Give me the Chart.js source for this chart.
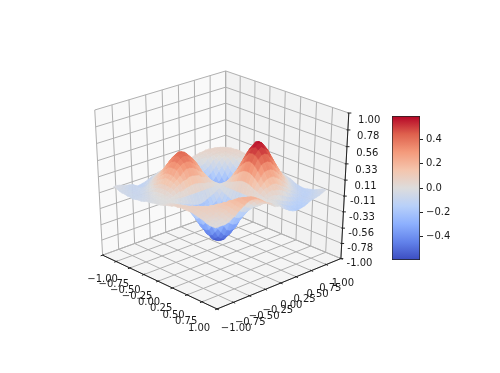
<!DOCTYPE html>
<html>
<head>
<meta charset="utf-8">
<script src="https://cdn.jsdelivr.net/npm/chart.js@4"></script>
<style>
    body { margin: 0; background: #fff; }
    canvas { position: absolute; }
</style>
</head>
<body>
<canvas id="surfaceChart" width="500" height="373" style="left:0;top:0"></canvas>
<canvas id="colorbarChart" width="80" height="148" style="left:390px;top:114px"></canvas>
<script>
const xTicks = [-1, -0.75, -0.5, -0.25, 0, 0.25, 0.5, 0.75, 1];
const yTicks = [-1, -0.75, -0.5, -0.25, 0, 0.25, 0.5, 0.75, 1];
const zTicks = [-1, -0.78, -0.56, -0.33, -0.11, 0.11, 0.33, 0.56, 0.78, 1];
const xTickLabels = ['−1.00', '−0.75', '−0.50', '−0.25', '0.00', '0.25', '0.50', '0.75', '1.00'];
const yTickLabels = ['−1.00', '−0.75', '−0.50', '−0.25', '0.00', '0.25', '0.50', '0.75', '1.00'];
const zTickLabels = ['-1.00', '-0.78', '-0.56', '-0.33', '-0.11', '0.11', '0.33', '0.56', '0.78', '1.00'];
const colorbarTicks = [-0.4, -0.2, 0, 0.2, 0.4];
const zMin = -0.59;
const zMax = 0.59;

const surfaceX = [-0.88, -0.832, -0.784, -0.736, -0.688, -0.64, -0.592, -0.544, -0.496, -0.448, -0.4, -0.352,
    -0.304, -0.256, -0.208, -0.16, -0.112, -0.064, -0.016, 0.032, 0.08, 0.128, 0.176, 0.224, 0.272, 0.32, 0.368,
    0.416, 0.464, 0.512, 0.56, 0.608, 0.656, 0.704, 0.752, 0.8, 0.848];
const surfaceY = [-0.88, -0.832, -0.784, -0.736, -0.688, -0.64, -0.592, -0.544, -0.496, -0.448, -0.4, -0.352,
    -0.304, -0.256, -0.208, -0.16, -0.112, -0.064, -0.016, 0.032, 0.08, 0.128, 0.176, 0.224, 0.272, 0.32, 0.368,
    0.416, 0.464, 0.512, 0.56, 0.608, 0.656, 0.704, 0.752, 0.8, 0.848];

// surface height in hundredths, one row per surfaceY value
const surfaceZ = [
    [-2,-3,-5,-6,-6,-7,-7,-8,-7,-6,-6,-5,-3,-3,-2,-1,-1,0,1,3,4,5,7,7,8,8,8,8,8,7,6,5,4,2,1,1,1],
    [-2,-3,-5,-6,-6,-7,-7,-8,-7,-6,-6,-5,-3,-3,-2,-1,-1,0,1,3,4,5,7,7,8,8,8,8,8,7,6,5,4,2,1,1,1],
    [-3,-5,-6,-7,-8,-8,-8,-8,-7,-6,-4,-3,-2,-1,-1,0,0,0,1,2,3,3,5,6,7,8,9,9,9,8,8,7,5,4,2,1,1],
    [-5,-6,-8,-8,-8,-8,-8,-7,-6,-4,-3,-1,0,0,1,1,0,0,0,-1,0,1,2,3,5,7,8,9,9,9,8,8,6,5,3,1,1],
    [-6,-8,-8,-9,-8,-8,-7,-5,-3,-1,0,2,2,3,2,2,1,0,-1,-3,-3,-2,0,1,3,4,7,8,9,9,9,8,8,5,4,2,2],
    [-7,-8,-9,-8,-8,-6,-5,-3,0,2,4,6,6,6,6,4,2,0,-3,-5,-6,-6,-5,-3,0,3,4,7,8,9,9,9,8,8,6,5,5],
    [-8,-8,-8,-8,-6,-4,-2,1,4,6,9,10,11,10,9,7,4,0,-5,-9,-11,-13,-12,-9,-5,-1,3,5,8,9,10,10,10,10,8,7,7],
    [-12,-12,-11,-9,-6,-3,2,5,9,12,14,17,17,16,14,10,6,0,-7,-12,-17,-20,-21,-18,-12,-7,-2,3,7,10,12,13,13,13,12,11,11],
    [-12,-11,-10,-7,-3,2,6,9,13,17,20,21,21,20,17,13,6,0,-9,-17,-23,-28,-29,-29,-25,-17,-10,-3,3,8,12,14,16,16,15,14,14],
    [-11,-10,-7,-4,1,5,9,14,18,23,27,28,28,27,21,16,8,0,-11,-21,-29,-36,-38,-38,-36,-29,-20,-11,-2,5,11,15,17,18,18,17,17],
    [-10,-8,-5,0,4,8,13,18,24,29,33,35,34,31,25,17,9,0,-13,-24,-34,-42,-46,-47,-45,-39,-33,-21,-10,-1,7,13,17,20,21,20,20],
    [-8,-6,-2,2,6,11,17,23,29,35,38,40,38,34,28,19,10,0,-14,-26,-37,-46,-51,-54,-51,-47,-39,-29,-18,-6,3,10,15,19,21,21,21],
    [-6,-4,0,4,8,13,20,27,33,38,41,42,40,35,28,19,10,0,-14,-26,-38,-47,-54,-57,-56,-51,-45,-36,-25,-13,-2,6,12,17,20,21,21],
    [-5,-2,2,6,9,16,21,28,35,40,42,42,39,34,27,18,9,0,-13,-25,-36,-46,-52,-58,-57,-54,-47,-38,-28,-17,-6,3,9,15,19,20,20],
    [-3,-1,2,6,10,16,21,28,34,38,40,39,35,30,24,17,8,0,-11,-22,-32,-41,-48,-52,-54,-51,-46,-38,-29,-19,-9,0,7,12,15,17,17],
    [-2,0,3,6,9,15,20,27,31,34,35,34,30,26,20,13,6,0,-9,-18,-27,-35,-41,-46,-47,-46,-42,-36,-27,-19,-11,-3,3,8,12,14,14],
    [-2,1,2,6,9,14,18,23,27,30,30,29,26,22,17,12,6,0,-7,-15,-21,-27,-32,-36,-38,-37,-34,-29,-23,-17,-11,-6,-1,3,7,10,10],
    [-1,1,2,4,7,10,14,17,19,21,21,20,18,14,12,8,4,0,-5,-10,-15,-18,-22,-25,-26,-26,-24,-21,-17,-12,-9,-5,-3,0,4,7,7],
    [0,0,1,2,4,6,7,9,10,11,11,10,9,7,6,4,2,0,-3,-5,-7,-9,-11,-13,-14,-14,-13,-11,-9,-7,-5,-3,-1,1,3,5,5],
    [0,0,0,0,0,0,0,0,0,0,0,0,0,0,0,0,0,0,0,0,0,0,0,0,0,0,0,0,0,0,0,0,0,0,0,0,0],
    [0,0,-1,-3,-5,-7,-9,-11,-13,-14,-14,-13,-11,-9,-7,-5,-3,0,3,5,7,9,11,13,14,14,13,11,9,7,5,3,1,0,0,-1,-1],
    [1,-1,-3,-5,-9,-12,-17,-21,-24,-26,-26,-25,-22,-18,-15,-10,-5,0,5,10,15,18,22,25,26,26,24,21,17,12,9,5,3,1,-1,-2,-2],
    [1,-1,-3,-7,-11,-17,-23,-29,-34,-37,-38,-36,-32,-27,-21,-15,-7,0,7,15,21,27,32,36,38,37,34,29,23,17,11,7,3,0,-4,-7,-7],
    [1,0,-4,-8,-13,-20,-28,-36,-42,-46,-47,-46,-41,-35,-27,-18,-9,0,9,18,27,35,41,46,47,46,42,36,28,20,13,8,3,-2,-6,-10,-10],
    [1,0,-3,-8,-14,-21,-29,-38,-46,-51,-54,-52,-48,-41,-32,-22,-11,0,11,22,32,41,48,52,54,51,46,38,29,21,14,7,2,-4,-9,-13,-13],
    [2,1,-2,-7,-13,-21,-29,-38,-47,-54,-57,-57,-52,-46,-36,-25,-13,0,13,25,36,46,52,58,57,54,47,38,29,21,13,6,0,-6,-11,-15,-15],
    [3,2,0,-5,-11,-18,-27,-36,-45,-51,-56,-57,-54,-47,-38,-26,-14,0,14,26,38,47,54,57,56,51,45,36,27,18,10,4,-2,-8,-13,-16,-16],
    [4,3,1,-3,-8,-15,-23,-31,-39,-47,-51,-54,-51,-46,-37,-26,-14,0,14,26,37,46,51,54,51,47,39,31,23,15,7,1,-5,-10,-14,-16,-16],
    [5,4,2,0,-5,-11,-18,-25,-33,-39,-45,-47,-46,-42,-34,-24,-13,0,13,24,34,42,46,47,45,39,33,25,18,11,4,-2,-7,-12,-15,-16,-15],
    [5,5,3,2,-1,-6,-12,-19,-25,-31,-36,-38,-38,-36,-29,-21,-11,0,11,21,29,36,38,38,36,31,25,19,12,6,0,-5,-9,-13,-15,-15,-14],
    [6,5,5,3,1,-2,-7,-12,-18,-23,-27,-29,-29,-28,-23,-17,-9,0,9,17,23,28,29,29,27,23,18,12,7,2,-4,-8,-12,-14,-14,-13,-12],
    [6,6,5,4,3,1,-2,-6,-11,-15,-18,-21,-21,-20,-17,-12,-7,0,7,12,17,20,21,21,18,15,11,6,2,-3,-6,-9,-11,-12,-12,-10,-10],
    [5,6,6,5,4,3,1,-1,-5,-8,-11,-13,-14,-13,-11,-9,-5,0,5,9,11,13,14,13,11,8,5,1,-3,-6,-9,-11,-12,-12,-11,-9,-9],
    [5,6,6,6,5,4,3,2,0,-3,-5,-7,-8,-8,-7,-5,-3,0,3,5,7,8,8,7,5,3,0,-4,-7,-9,-11,-12,-13,-12,-10,-8,-8],
    [4,5,6,6,6,5,5,3,2,1,0,-2,-3,-4,-3,-3,-1,0,1,3,3,4,3,2,0,-2,-5,-7,-10,-11,-12,-13,-12,-11,-9,-7,-7],
    [3,4,5,6,6,6,5,5,4,3,2,1,0,0,-1,-1,0,0,0,1,1,0,-1,-2,-4,-6,-8,-10,-11,-12,-12,-12,-11,-9,-7,-5,-5],
    [2,3,4,5,5,6,6,5,5,4,3,2,1,1,1,0,0,0,0,-1,-2,-2,-3,-5,-6,-8,-10,-11,-12,-12,-11,-10,-9,-7,-5,-3,-3]
];

// coolwarm colormap
const coolwarm = [[59, 76, 192], [98, 130, 234], [141, 176, 254], [184, 208, 249], [221, 220, 220],
    [244, 197, 173], [244, 154, 123], [222, 96, 77], [180, 4, 38]];

// camera
const azim = -43 * Math.PI / 180;
const elev = 30 * Math.PI / 180;
const dist = 20;
const zStretch = 1.28;
const centerX = 221.5;
const centerY = 186.5;
const focalX = 1740;
const focalY = 1310;

function viewDepth(x, y, z) {
    return Math.cos(elev) * Math.cos(azim) * x + Math.cos(elev) * Math.sin(azim) * y + Math.sin(elev) * z * zStretch;
}

function project(x, y, z) {
    const w = dist - viewDepth(x, y, z);
    const right = -Math.sin(azim) * x + Math.cos(azim) * y;
    const up = -Math.sin(elev) * Math.cos(azim) * x - Math.sin(elev) * Math.sin(azim) * y + Math.cos(elev) * z * zStretch;
    return { x: centerX + focalX * right / w, y: centerY - focalY * up / w };
}

function coolwarmColor(value) {
    const t = Math.min(1, Math.max(0, (value - zMin) / (zMax - zMin))) * (coolwarm.length - 1);
    const i = Math.min(coolwarm.length - 2, Math.floor(t));
    const c = coolwarm[i].map((v, k) => Math.round(v + (coolwarm[i + 1][k] - v) * (t - i)));
    return `rgb(${c[0]},${c[1]},${c[2]})`;
}

function polygon(corners, color) {
    const pts = corners.map(c => project(c[0], c[1], c[2]));
    pts.push(pts[0]);
    return { data: pts, showLine: true, fill: 'shape', backgroundColor: color, borderColor: color, borderWidth: 0.6, pointRadius: 0 };
}

function segment(a, b, color, width) {
    return { data: [project(a[0], a[1], a[2]), project(b[0], b[1], b[2])], showLine: true, fill: false, borderColor: color, borderWidth: width, pointRadius: 0 };
}

function buildDatasets() {
    const sets = [];

    // panes
    sets.push(polygon([[-1, -1, -1], [-1, 1, -1], [-1, 1, 1], [-1, -1, 1]], '#f9f9f9'));
    sets.push(polygon([[-1, 1, -1], [1, 1, -1], [1, 1, 1], [-1, 1, 1]], '#f2f2f2'));
    sets.push(polygon([[-1, -1, -1], [1, -1, -1], [1, 1, -1], [-1, 1, -1]], '#f5f5f5'));

    // grid
    const gridColor = '#b0b0b0';
    xTicks.forEach(x => {
        sets.push(segment([x, -1, -1], [x, 1, -1], gridColor, 1));
        sets.push(segment([x, 1, -1], [x, 1, 1], gridColor, 1));
    });
    yTicks.forEach(y => {
        sets.push(segment([1, y, -1], [-1, y, -1], gridColor, 1));
        sets.push(segment([-1, y, -1], [-1, y, 1], gridColor, 1));
    });
    zTicks.forEach(z => {
        sets.push(segment([-1, -1, z], [-1, 1, z], gridColor, 1));
        sets.push(segment([-1, 1, z], [1, 1, z], gridColor, 1));
    });

    // axis lines and tick marks
    const axisColor = '#222';
    sets.push(segment([-1, -1, -1], [1, -1, -1], axisColor, 1));
    sets.push(segment([1, -1, -1], [1, 1, -1], axisColor, 1));
    sets.push(segment([1, 1, -1], [1, 1, 1], axisColor, 1));
    xTicks.forEach(x => sets.push(segment([x, -1.03, -1], [x, -0.98, -1], axisColor, 1)));
    yTicks.forEach(y => sets.push(segment([1.03, y, -1], [0.98, y, -1], axisColor, 1)));
    zTicks.forEach(z => sets.push(segment([1.02, 1.02, z], [0.99, 0.99, z], axisColor, 1)));

    // surface faces, far ones first
    const faces = [];
    for (let r = 0; r < surfaceY.length - 1; r++) {
        for (let c = 0; c < surfaceX.length - 1; c++) {
            const corners = [
                [surfaceX[c], surfaceY[r], surfaceZ[r][c] / 100],
                [surfaceX[c + 1], surfaceY[r], surfaceZ[r][c + 1] / 100],
                [surfaceX[c + 1], surfaceY[r + 1], surfaceZ[r + 1][c + 1] / 100],
                [surfaceX[c], surfaceY[r + 1], surfaceZ[r + 1][c] / 100]
            ];
            const meanZ = corners.reduce((sum, p) => sum + p[2], 0) / 4;
            const depth = corners.reduce((sum, p) => sum + viewDepth(p[0], p[1], p[2]), 0) / 4;
            faces.push({ corners, meanZ, depth });
        }
    }
    faces.sort((a, b) => a.depth - b.depth);
    faces.forEach(f => sets.push(polygon(f.corners, coolwarmColor(f.meanZ))));

    // chart.js draws the first dataset on top
    return sets.reverse();
}

const tickLabelPlugin = {
    id: 'tickLabels',
    afterDatasetsDraw(chart) {
        const ctx = chart.ctx;
        const sx = chart.scales.x;
        const sy = chart.scales.y;
        ctx.save();
        ctx.fillStyle = '#1a1a1a';
        ctx.font = '10px "DejaVu Sans"';
        ctx.textBaseline = 'middle';
        ctx.textAlign = 'center';
        xTicks.forEach((x, i) => {
            const p = project(x, -1, -1);
            const t = (x + 1) / 2;
            ctx.fillText(xTickLabels[i], sx.getPixelForValue(p.x) - 18 * t, sy.getPixelForValue(p.y) + 24 - 5 * t);
        });
        yTicks.forEach((y, i) => {
            const p = project(1, y, -1);
            const t = (y + 1) / 2;
            ctx.fillText(yTickLabels[i], sx.getPixelForValue(p.x) + 19 - 17 * t, sy.getPixelForValue(p.y) + 19 + 6 * t);
        });
        ctx.textAlign = 'right';
        zTicks.forEach((z, i) => {
            const p = project(1, 1, z);
            ctx.fillText(zTickLabels[i], sx.getPixelForValue(p.x) + 31.5, sy.getPixelForValue(p.y) + 5.8 + 1.2 * z);
        });
        ctx.restore();
    }
};

new Chart(document.getElementById('surfaceChart').getContext('2d'), {
    type: 'scatter',
    data: { datasets: buildDatasets() },
    options: {
        responsive: false,
        animation: false,
        events: [],
        layout: { padding: 0 },
        plugins: { legend: { display: false }, tooltip: { enabled: false } },
        scales: {
            x: { type: 'linear', min: 0, max: 500, display: false },
            y: { type: 'linear', min: 0, max: 373, reverse: true, display: false }
        }
    },
    plugins: [tickLabelPlugin]
});

new Chart(document.getElementById('colorbarChart').getContext('2d'), {
    type: 'bar',
    data: {
        labels: [''],
        datasets: [{
            data: [[zMin, zMax]],
            barPercentage: 1,
            categoryPercentage: 1,
            borderColor: '#222',
            borderWidth: 1,
            borderSkipped: false,
            backgroundColor(context) {
                const area = context.chart.chartArea;
                if (!area) return '#ddd';
                const gradient = context.chart.ctx.createLinearGradient(0, area.bottom, 0, area.top);
                coolwarm.forEach((c, i) => gradient.addColorStop(i / (coolwarm.length - 1), `rgb(${c[0]},${c[1]},${c[2]})`));
                return gradient;
            }
        }]
    },
    options: {
        responsive: false,
        animation: false,
        events: [],
        layout: { padding: { left: 2, right: 0, top: 2, bottom: 2 } },
        plugins: { legend: { display: false }, tooltip: { enabled: false } },
        scales: {
            x: { display: false },
            y: {
                position: 'right',
                min: zMin,
                max: zMax,
                afterBuildTicks(scale) { scale.ticks = colorbarTicks.map(value => ({ value })); },
                afterFit(scale) {
                    scale.width = 50;
                    scale.paddingTop = 0;
                    scale.paddingBottom = 0;
                },
                border: { display: false },
                grid: { drawOnChartArea: false, tickLength: 3, color: '#222' },
                ticks: {
                    color: '#1a1a1a',
                    padding: 3,
                    font: { family: '"DejaVu Sans"', size: 10 },
                    callback(value) { return value < 0 ? '−' + Math.abs(value).toFixed(1) : value.toFixed(1); }
                }
            }
        }
    }
});
</script>
</body>
</html>
